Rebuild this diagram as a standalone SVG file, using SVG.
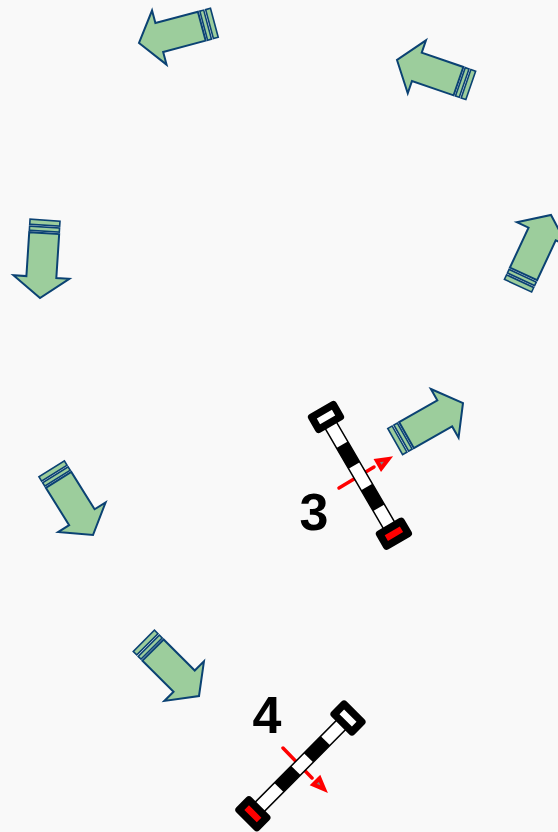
<svg xmlns="http://www.w3.org/2000/svg" width="558" height="832" viewBox="0 0 558 832">
<style>
.ar{fill:#9ccd9c;stroke:#0b4273;stroke-width:2;stroke-linejoin:miter}
.st{fill:#9ccd9c;stroke:#0b4273;stroke-width:1.6}
.bar{fill:#fff;stroke:#000;stroke-width:1.5}
.blk{fill:#000}
.hd{fill:#fff;stroke:#000;stroke-width:7.5;stroke-linejoin:round}
.hr{fill:#f00;stroke:#000;stroke-width:7.5;stroke-linejoin:round}
.rl{stroke:#f00;stroke-width:3.5;fill:none;stroke-linecap:round}
.rh{fill:#808080;stroke:#f00;stroke-width:4;stroke-linejoin:miter}
.num{font:bold 52px "Liberation Sans",Arial,sans-serif;text-anchor:middle;fill:#000}
</style>
<defs>
<g id="arrow">
<path class="ar" d="M-21,-28L0,0L-21,28L-21,15L-65,15L-65,-15L-21,-15Z"/>
<rect class="st" x="-71" y="-15" width="4" height="30"/>
<rect class="st" x="-78" y="-15" width="5" height="30"/>
</g>
<g id="rhead"><path class="rh" d="M-4,0L-15,-4.5L-15,4.5Z"/></g>
</defs>
<rect width="558" height="832" fill="#f9f9f9"/>
<g id="arrow-1"><use href="#arrow" transform="translate(139,43) rotate(165)"/></g>
<g id="arrow-2"><use href="#arrow" transform="translate(397,60) rotate(199)"/></g>
<g id="arrow-3"><use href="#arrow" transform="translate(551,215) rotate(-65)"/></g>
<g id="arrow-4"><use href="#arrow" transform="translate(40,298) rotate(93.7)"/></g>
<g id="arrow-5"><use href="#arrow" transform="translate(463,403) rotate(-29.6)"/></g>
<g id="arrow-6"><use href="#arrow" transform="translate(93,535) rotate(58)"/></g>
<g id="arrow-7"><use href="#arrow" transform="translate(199,696) rotate(45)"/></g>
<g id="connectors">
<path class="rl" d="M339,488L374,467"/>
<use href="#rhead" transform="translate(392,457) rotate(-30)"/>
<path class="rl" d="M283,748L312,778"/>
<use href="#rhead" transform="translate(327,792) rotate(45)"/>
</g>
<g id="signal-3" transform="translate(326,417) rotate(59.8)">
<rect class="bar" x="0" y="-6.5" width="135" height="13"/>
<rect class="blk" x="32" y="-6.5" width="24" height="13"/>
<rect class="blk" x="81" y="-6.5" width="24" height="13"/>
<rect class="hd" x="-7" y="-12.5" width="14" height="25"/>
<rect class="hr" x="128" y="-12.5" width="14" height="25"/>
</g>
<g id="signal-4" transform="translate(348,718) rotate(134.8)">
<rect class="bar" x="0" y="-6.5" width="135" height="13"/>
<rect class="blk" x="32" y="-6.5" width="24" height="13"/>
<rect class="blk" x="74" y="-6.5" width="24" height="13"/>
<rect class="hd" x="-7" y="-12.5" width="14" height="25"/>
<rect class="hr" x="128" y="-12.5" width="14" height="25"/>
</g>
<g id="label-3"><text class="num" x="314" y="530">3</text></g>
<g id="label-4"><text class="num" x="267" y="733">4</text></g>
</svg>
